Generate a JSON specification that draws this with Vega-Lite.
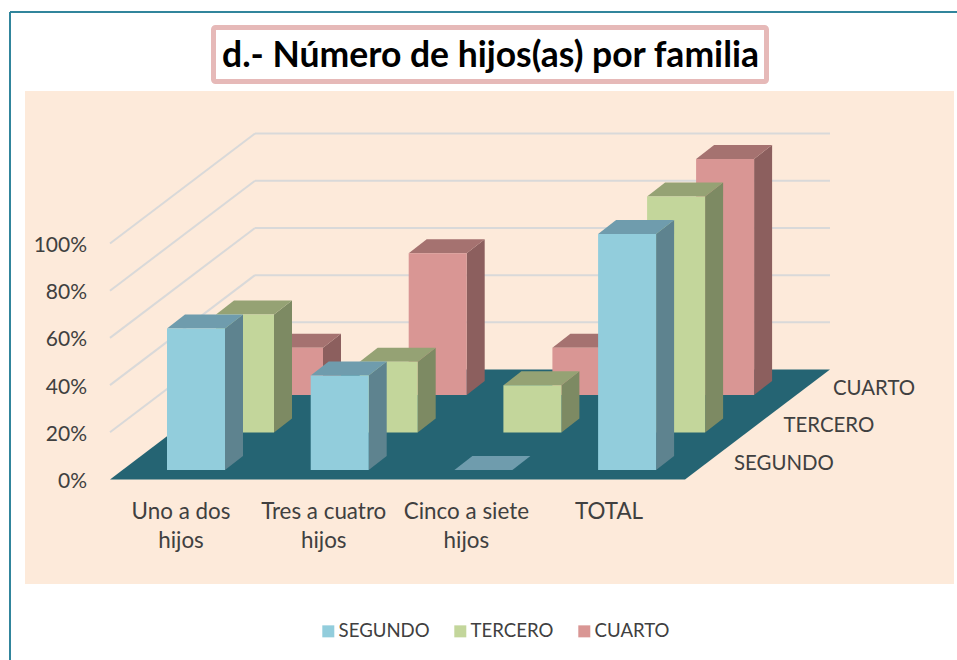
{
"$schema":"https://vega.github.io/schema/vega-lite/v6.json",
"width":957,"height":660,"padding":0,"autosize":{"type":"none"},"background":"#ffffff",
"view":{"stroke":null},
"config":{"font":"Lato","text":{"font":"Lato"}},
"title":{"text":"d.- Número de hijos(as) por familia","font":"Lato","fontSize":35.5,"fontWeight":"bold","color":"#000000","anchor":"middle","dx":12,"offset":-74,"zindex":2},
"data":{"values":[
{"categoria":"Uno a dos hijos","serie":"SEGUNDO","valor":0.6},
{"categoria":"Tres a cuatro hijos","serie":"SEGUNDO","valor":0.4},
{"categoria":"Cinco a siete hijos","serie":"SEGUNDO","valor":0},
{"categoria":"TOTAL","serie":"SEGUNDO","valor":1},
{"categoria":"Uno a dos hijos","serie":"TERCERO","valor":0.5},
{"categoria":"Tres a cuatro hijos","serie":"TERCERO","valor":0.3},
{"categoria":"Cinco a siete hijos","serie":"TERCERO","valor":0.2},
{"categoria":"TOTAL","serie":"TERCERO","valor":1},
{"categoria":"Uno a dos hijos","serie":"CUARTO","valor":0.2},
{"categoria":"Tres a cuatro hijos","serie":"CUARTO","valor":0.6},
{"categoria":"Cinco a siete hijos","serie":"CUARTO","valor":0.2},
{"categoria":"TOTAL","serie":"CUARTO","valor":1}
]},
"transform":[
{"calculate":"indexof(['Uno a dos hijos','Tres a cuatro hijos','Cinco a siete hijos','TOTAL'],datum.categoria)","as":"i"},
{"calculate":"indexof(['SEGUNDO','TERCERO','CUARTO'],datum.serie)","as":"j"},
{"calculate":"167+143.7*datum.i+49*datum.j","as":"xf"},
{"calculate":"datum.xf+58","as":"xr"},
{"calculate":"0.0403+0.159*datum.j","as":"yb"},
{"calculate":"datum.yb+datum.valor","as":"yt"},
{"calculate":"[0,1]","as":"t"},
{"flatten":["t"]},
{"calculate":"datum.xr+18*datum.t","as":"xs"},
{"calculate":"datum.xf+18*datum.t","as":"xtl"},
{"calculate":"datum.yb+0.0593*datum.t","as":"ybs"},
{"calculate":"datum.yt+0.0593*datum.t","as":"yts"}
],
"layer":[
{"data":{"values":[{}]},"transform":[],"mark":{"type":"rect","fill":"#FDEADA"},"encoding":{"x":{"value":25},"x2":{"value":954},"y":{"value":91},"y2":{"value":584}}},
{"data":{"values":[{}]},"mark":{"type":"rule","stroke":"#31859C","strokeWidth":2},"encoding":{"x":{"value":10},"x2":{"value":10},"y":{"value":12},"y2":{"value":660}}},
{"data":{"values":[{}]},"mark":{"type":"rule","stroke":"#31859C","strokeWidth":2},"encoding":{"x":{"value":10},"x2":{"value":957},"y":{"value":12},"y2":{"value":12}}},
{"data":{"values":[{}]},"mark":{"type":"rect","fill":"#ffffff","stroke":"#E6B9B8","strokeWidth":5,"cornerRadius":2},"encoding":{"x":{"value":213.5},"x2":{"value":766.5},"y":{"value":27.5},"y2":{"value":81.5}}},
{"data":{"values":[{"nivel":0.2},{"nivel":0.4},{"nivel":0.6},{"nivel":0.8},{"nivel":1}]},
 "transform":[{"calculate":"datum.nivel+0.466","as":"atras"}],
 "mark":{"type":"rule","stroke":"#D9D9D9","strokeWidth":2},
 "encoding":{"x":{"value":110},"x2":{"value":255},
  "y":{"field":"nivel","type":"quantitative","scale":{"domain":[-0.7648,2.0318],"nice":false,"zero":false},"axis":null},
  "y2":{"field":"atras"}}},
{"data":{"values":[{"nivel":0.2},{"nivel":0.4},{"nivel":0.6},{"nivel":0.8},{"nivel":1}]},
 "transform":[{"calculate":"datum.nivel+0.466","as":"atras"}],
 "mark":{"type":"rule","stroke":"#D9D9D9","strokeWidth":2},
 "encoding":{"x":{"value":255},"x2":{"value":830},
  "y":{"field":"atras","type":"quantitative","scale":{"domain":[-0.7648,2.0318],"nice":false,"zero":false},"axis":null}}},
{"data":{"values":[{"prof":0},{"prof":0.466}]},
 "transform":[{"calculate":"110+datum.prof/0.466*145","as":"xa"},{"calculate":"685+datum.prof/0.466*145","as":"xb"}],
 "mark":{"type":"area","orient":"horizontal","fill":"#256473"},
 "encoding":{"x":{"field":"xa","type":"quantitative","scale":{"domain":[0,957],"nice":false,"zero":false},"axis":null,"stack":null},"x2":{"field":"xb"},
  "y":{"field":"prof","type":"quantitative","scale":{"domain":[-0.7648,2.0318],"nice":false,"zero":false},"axis":null}}},

{"transform":[{"filter":"datum.serie=='CUARTO'"}],"mark":{"type":"area","fill":"#8C5F5E"},"encoding":{"x":{"field":"xs","type":"quantitative","scale":{"domain":[0,957],"nice":false,"zero":false},"axis":null},"y":{"field":"ybs","type":"quantitative","scale":{"domain":[-0.7648,2.0318],"nice":false,"zero":false},"axis":null,"stack":null},"y2":{"field":"yts"},"detail":{"field":"categoria"}}},
{"transform":[{"filter":"datum.serie=='CUARTO'"}],"mark":{"type":"area","orient":"horizontal","fill":"#A57270"},"encoding":{"x":{"field":"xtl","type":"quantitative","scale":{"domain":[0,957],"nice":false,"zero":false},"axis":null,"stack":null},"x2":{"field":"xs"},"y":{"field":"yts","type":"quantitative","scale":{"domain":[-0.7648,2.0318],"nice":false,"zero":false},"axis":null},"detail":{"field":"categoria"}}},
{"transform":[{"filter":"datum.serie=='CUARTO' && datum.t==0"}],"mark":{"type":"rect"},"encoding":{"x":{"field":"xf","type":"quantitative","scale":{"domain":[0,957],"nice":false,"zero":false},"axis":null},"x2":{"field":"xr"},"y":{"field":"yb","type":"quantitative","scale":{"domain":[-0.7648,2.0318],"nice":false,"zero":false},"axis":null},"y2":{"field":"yt"},
  "color":{"field":"serie","type":"nominal","scale":{"domain":["SEGUNDO","TERCERO","CUARTO"],"range":["#92CDDC","#C3D69B","#D99694"]},"sort":null,
   "legend":{"orient":"none","legendX":319,"legendY":622,"direction":"horizontal","columns":3,"title":null,"symbolType":"square","symbolSize":144,"symbolStrokeWidth":0,"labelFont":"Lato","labelFontSize":18.6,"labelColor":"#404040","labelOffset":1,"columnPadding":21}}}},

{"transform":[{"filter":"datum.serie=='TERCERO'"}],"mark":{"type":"area","fill":"#7D8A63"},"encoding":{"x":{"field":"xs","type":"quantitative","scale":{"domain":[0,957],"nice":false,"zero":false},"axis":null},"y":{"field":"ybs","type":"quantitative","scale":{"domain":[-0.7648,2.0318],"nice":false,"zero":false},"axis":null,"stack":null},"y2":{"field":"yts"},"detail":{"field":"categoria"}}},
{"transform":[{"filter":"datum.serie=='TERCERO'"}],"mark":{"type":"area","orient":"horizontal","fill":"#95A274"},"encoding":{"x":{"field":"xtl","type":"quantitative","scale":{"domain":[0,957],"nice":false,"zero":false},"axis":null,"stack":null},"x2":{"field":"xs"},"y":{"field":"yts","type":"quantitative","scale":{"domain":[-0.7648,2.0318],"nice":false,"zero":false},"axis":null},"detail":{"field":"categoria"}}},
{"transform":[{"filter":"datum.serie=='TERCERO' && datum.t==0"}],"mark":{"type":"rect"},"encoding":{"x":{"field":"xf","type":"quantitative","scale":{"domain":[0,957],"nice":false,"zero":false},"axis":null},"x2":{"field":"xr"},"y":{"field":"yb","type":"quantitative","scale":{"domain":[-0.7648,2.0318],"nice":false,"zero":false},"axis":null},"y2":{"field":"yt"},
  "color":{"field":"serie","type":"nominal","scale":{"domain":["SEGUNDO","TERCERO","CUARTO"],"range":["#92CDDC","#C3D69B","#D99694"]},"sort":null,"legend":null}}},

{"transform":[{"filter":"datum.serie=='SEGUNDO'"}],"mark":{"type":"area","fill":"#5E838F"},"encoding":{"x":{"field":"xs","type":"quantitative","scale":{"domain":[0,957],"nice":false,"zero":false},"axis":null},"y":{"field":"ybs","type":"quantitative","scale":{"domain":[-0.7648,2.0318],"nice":false,"zero":false},"axis":null,"stack":null},"y2":{"field":"yts"},"detail":{"field":"categoria"}}},
{"transform":[{"filter":"datum.serie=='SEGUNDO'"}],"mark":{"type":"area","orient":"horizontal","fill":"#6F9CAD"},"encoding":{"x":{"field":"xtl","type":"quantitative","scale":{"domain":[0,957],"nice":false,"zero":false},"axis":null,"stack":null},"x2":{"field":"xs"},"y":{"field":"yts","type":"quantitative","scale":{"domain":[-0.7648,2.0318],"nice":false,"zero":false},"axis":null},"detail":{"field":"categoria"}}},
{"transform":[{"filter":"datum.serie=='SEGUNDO' && datum.t==0"}],"mark":{"type":"rect"},"encoding":{"x":{"field":"xf","type":"quantitative","scale":{"domain":[0,957],"nice":false,"zero":false},"axis":null},"x2":{"field":"xr"},"y":{"field":"yb","type":"quantitative","scale":{"domain":[-0.7648,2.0318],"nice":false,"zero":false},"axis":null},"y2":{"field":"yt"},
  "color":{"field":"serie","type":"nominal","scale":{"domain":["SEGUNDO","TERCERO","CUARTO"],"range":["#92CDDC","#C3D69B","#D99694"]},"sort":null,"legend":null}}},

{"data":{"values":[{"categoria":"Uno a dos hijos"},{"categoria":"Tres a cuatro hijos"},{"categoria":"Cinco a siete hijos"},{"categoria":"TOTAL"}]},
 "transform":[{"calculate":"indexof(['Uno a dos hijos','Tres a cuatro hijos','Cinco a siete hijos','TOTAL'],datum.categoria)","as":"i"},{"calculate":"181+142.7*datum.i","as":"xc"},{"calculate":"replace(datum.categoria,' hijos','|hijos')","as":"etiqueta"}],
 "mark":{"type":"text","font":"Lato","fontSize":22.4,"color":"#404040","align":"center","baseline":"top","lineBreak":"|","lineHeight":29},
 "encoding":{"x":{"field":"xc","type":"quantitative","scale":{"domain":[0,957],"nice":false,"zero":false},"axis":null},"y":{"value":501},"text":{"field":"etiqueta"}}},
{"data":{"values":[{"serie":"SEGUNDO"},{"serie":"TERCERO"},{"serie":"CUARTO"}]},
 "transform":[{"calculate":"indexof(['SEGUNDO','TERCERO','CUARTO'],datum.serie)","as":"j"},{"calculate":"734+49.5*datum.j","as":"xc"},{"calculate":"0.0657+0.159*datum.j","as":"yc"}],
 "mark":{"type":"text","font":"Lato","fontSize":20.4,"color":"#404040","align":"left","baseline":"middle"},
 "encoding":{"x":{"field":"xc","type":"quantitative","scale":{"domain":[0,957],"nice":false,"zero":false},"axis":null},"y":{"field":"yc","type":"quantitative","scale":{"domain":[-0.7648,2.0318],"nice":false,"zero":false},"axis":null},"text":{"field":"serie"}}},
{"data":{"values":[{"nivel":0},{"nivel":0.2},{"nivel":0.4},{"nivel":0.6},{"nivel":0.8},{"nivel":1}]},
 "mark":{"type":"text","font":"Lato","fontSize":21,"color":"#404040","align":"right","baseline":"middle","dy":2.5},
 "encoding":{"x":{"value":87},"y":{"field":"nivel","type":"quantitative","scale":{"domain":[-0.7648,2.0318],"nice":false,"zero":false},"axis":null},"text":{"field":"nivel","format":".0%","type":"quantitative"}}}
]
}
